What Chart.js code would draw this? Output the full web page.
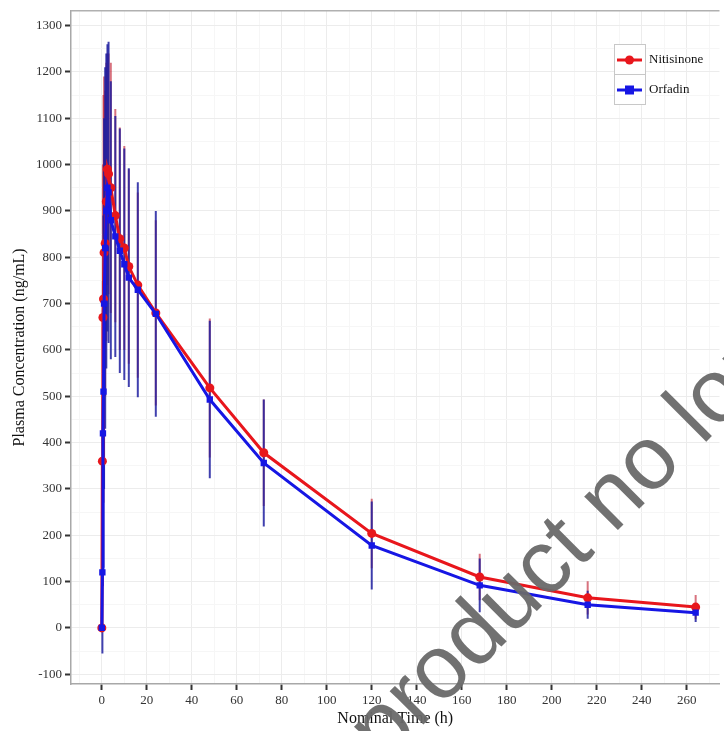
<!DOCTYPE html>
<html>
<head>
<meta charset="utf-8">
<script src="https://cdn.jsdelivr.net/npm/chart.js@4.4.1/dist/chart.umd.min.js"></script>
<style>
  body { margin: 0; background: #fff; }
  #wrap { width: 724px; height: 731px; position: relative; }
</style>
</head>
<body>
<div id="wrap"><canvas id="pkChart"></canvas></div>
<script>
// nominal sampling times (h)
const times = [0, 0.25, 0.5, 0.75, 1, 1.5, 2, 2.5, 3, 4, 6, 8, 10, 12, 16, 24, 48, 72, 120, 168, 216, 264];

// mean plasma concentration (ng/mL) and SD
const nitisinone   = [0, 360, 670, 710, 810, 830, 920, 990, 980, 950, 890, 840, 820, 780, 740, 680, 518, 378, 204, 110, 65, 45];
const nitisinoneSD = [0, 150, 330, 440, 380, 330, 300, 250, 260, 270, 230, 240, 220, 210, 200, 200, 150, 115, 75, 50, 36, 26];
const orfadin      = [0, 120, 420, 510, 700, 820, 900, 950, 940, 880, 845, 814, 785, 756, 730, 678, 493, 356, 178, 92, 50, 33];
const orfadinSD    = [0, 175, 330, 380, 400, 390, 340, 310, 325, 300, 260, 264, 250, 236, 232, 222, 170, 137, 95, 58, 30, 20];

const xTicks = [0, 20, 40, 60, 80, 100, 120, 140, 160, 180, 200, 220, 240, 260];

const RED = 'rgb(232,22,28)';
const BLUE = 'rgb(22,22,228)';
const serif = "'Liberation Serif', 'DejaVu Serif', serif";

function pts(ys) {
  return times.map((t, i) => ({ x: t, y: ys[i] }));
}

// vertical SD bars behind the lines
const errorBars = {
  id: 'errorBars',
  beforeDatasetsDraw(chart) {
    const { ctx, scales: { x, y } } = chart;
    const sets = [
      [nitisinone, nitisinoneSD, 'rgba(190,20,40,0.6)'],
      [orfadin, orfadinSD, 'rgba(30,30,160,0.85)']
    ];
    ctx.save();
    ctx.beginPath();
    ctx.rect(chart.chartArea.left, chart.chartArea.top, chart.chartArea.width, chart.chartArea.height);
    ctx.clip();
    ctx.lineWidth = 2;
    sets.forEach(([m, sd, col]) => {
      ctx.strokeStyle = col;
      times.forEach((t, i) => {
        if (!sd[i]) return;
        const px = x.getPixelForValue(t);
        ctx.beginPath();
        ctx.moveTo(px, y.getPixelForValue(m[i] - sd[i]));
        ctx.lineTo(px, y.getPixelForValue(m[i] + sd[i]));
        ctx.stroke();
      });
    });
    ctx.restore();
  }
};

// top frame line, legend box, watermark
const extras = {
  id: 'extras',
  afterDraw(chart) {
    const { ctx, chartArea: a } = chart;
    ctx.save();
    ctx.strokeStyle = '#b0b0b0';
    ctx.lineWidth = 1.5;
    ctx.beginPath();
    ctx.moveTo(a.left, a.top);
    ctx.lineTo(a.right, a.top);
    ctx.stroke();

    // legend
    const lx = 614, ly = 44, lw = 31, lh = 30;
    ctx.fillStyle = '#fff';
    ctx.fillRect(lx, ly, lw, lh * 2);
    ctx.strokeStyle = '#c8c8c8';
    ctx.lineWidth = 1;
    ctx.strokeRect(lx + 0.5, ly + 0.5, lw, lh);
    ctx.strokeRect(lx + 0.5, ly + lh + 0.5, lw, lh);
    const items = [['Nitisinone', RED, 'circle'], ['Orfadin', BLUE, 'rect']];
    items.forEach(([label, col, shape], i) => {
      const cy = ly + lh * i + lh / 2 + 1;
      ctx.strokeStyle = col;
      ctx.lineWidth = 3;
      ctx.beginPath();
      ctx.moveTo(lx + 3, cy);
      ctx.lineTo(lx + lw - 3, cy);
      ctx.stroke();
      ctx.fillStyle = col;
      ctx.beginPath();
      if (shape === 'circle') ctx.arc(lx + lw / 2, cy, 4.5, 0, Math.PI * 2);
      else ctx.rect(lx + lw / 2 - 4.5, cy - 4.5, 9, 9);
      ctx.fill();
      ctx.fillStyle = '#111';
      ctx.font = '13px ' + serif;
      ctx.textBaseline = 'middle';
      ctx.textAlign = 'left';
      ctx.fillText(label, lx + lw + 4, cy);
    });

    // watermark
    ctx.translate(702, 446);
    ctx.rotate(-Math.PI / 4);
    ctx.font = "90px 'Liberation Sans', Arial, sans-serif";
    ctx.fillStyle = 'rgba(105,105,105,0.95)';
    ctx.textBaseline = 'alphabetic';
    ctx.textAlign = 'right';
    ctx.fillText('Medicinal product no ', 0, 0);
    ctx.textAlign = 'left';
    ctx.fillText('longer authorised', 0, 0);
    ctx.restore();
  }
};

new Chart(document.getElementById('pkChart'), {
  type: 'line',
  data: {
    datasets: [
      {
        label: 'Orfadin',
        data: pts(orfadin),
        borderColor: BLUE,
        backgroundColor: BLUE,
        borderWidth: 3,
        pointStyle: 'rect',
        pointRadius: 4.5,
        pointBorderWidth: 0,
        tension: 0
      },
      {
        label: 'Nitisinone',
        data: pts(nitisinone),
        borderColor: RED,
        backgroundColor: RED,
        borderWidth: 3,
        pointStyle: 'circle',
        pointRadius: 4.5,
        pointBorderWidth: 0,
        tension: 0
      }
    ]
  },
  options: {
    responsive: true,
    maintainAspectRatio: false,
    animation: false,
    layout: { padding: { top: 10, right: 0, left: 0, bottom: 0 } },
    plugins: { legend: { display: false }, tooltip: { enabled: false } },
    scales: {
      x: {
        type: 'linear',
        min: -13.7,
        max: 274.6,
        afterFit(s) { s.height = 47; },
        border: { display: true, color: '#a8a8a8', width: 1.5 },
        grid: {
          color: c => (c.tick && c.tick.value % 20 === 0) ? '#ececec' : '#f6f6f6',
          tickColor: c => (c.tick && c.tick.value % 20 === 0) ? '#333' : 'rgba(0,0,0,0)',
          tickLength: 6,
          tickWidth: 2
        },
        ticks: {
          stepSize: 10,
          includeBounds: false,
          autoSkip: false,
          maxRotation: 0,
          padding: 3,
          color: '#333',
          font: { family: serif, size: 13 },
          callback: v => xTicks.includes(v) ? String(v) : ''
        },
        title: {
          display: true,
          text: 'Nominal Time (h)',
          color: '#111',
          font: { family: serif, size: 16 },
          padding: { top: 0, bottom: 3 }
        }
      },
      y: {
        type: 'linear',
        min: -121,
        max: 1332,
        afterFit(s) { s.width = 71; },
        border: { display: true, color: '#a8a8a8', width: 1.5 },
        grid: {
          color: c => (c.tick && c.tick.value % 100 === 0) ? '#ececec' : '#f6f6f6',
          tickColor: c => (c.tick && c.tick.value % 100 === 0) ? '#333' : 'rgba(0,0,0,0)',
          tickLength: 6,
          tickWidth: 2
        },
        ticks: {
          stepSize: 50,
          includeBounds: false,
          autoSkip: false,
          padding: 3,
          color: '#333',
          font: { family: serif, size: 13 },
          callback: v => v % 100 === 0 ? String(v) : ''
        },
        title: {
          display: true,
          text: 'Plasma Concentration (ng/mL)',
          color: '#111',
          font: { family: serif, size: 16 },
          padding: { top: 10, bottom: 0 }
        }
      }
    }
  },
  plugins: [errorBars, extras]
});
</script>
</body>
</html>
